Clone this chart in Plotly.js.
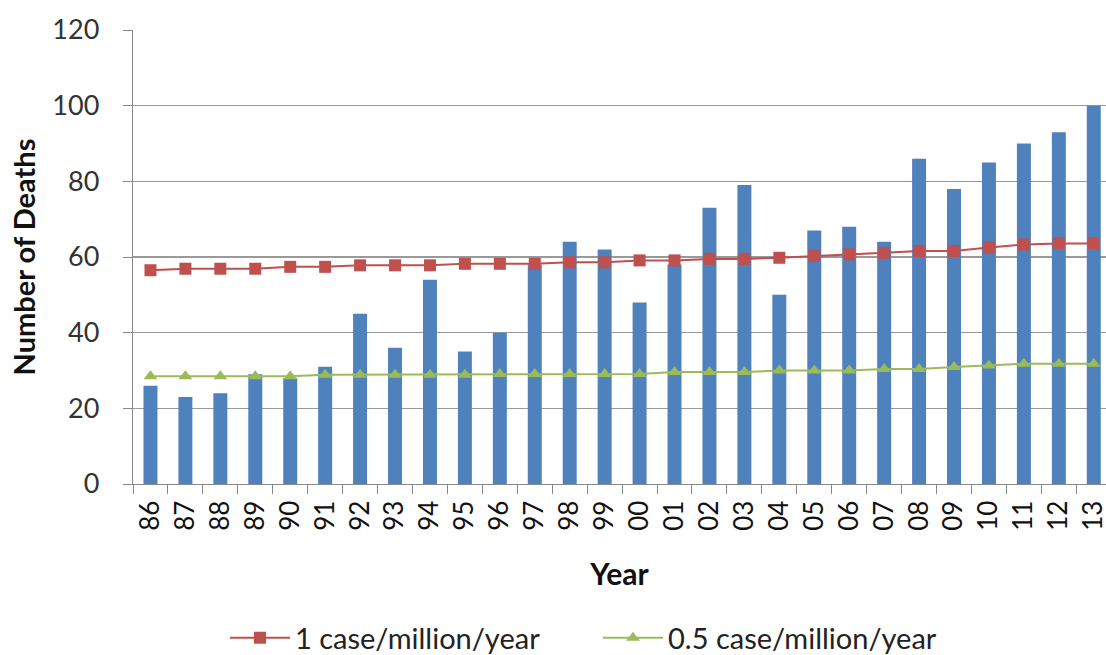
<!DOCTYPE html>
<html>
<head>
<meta charset="utf-8">
<script src="https://cdn.plot.ly/plotly-3.0.1.min.js"></script>
<style>html,body{margin:0;padding:0;background:#fff;}#chart{width:1106px;height:655px;}</style>
</head>
<body>
<div id="chart"></div>
<script>
const years = ["86","87","88","89","90","91","92","93","94","95","96","97","98","99","00","01","02","03","04","05","06","07","08","09","10","11","12","13"];
const deaths = [26,23,24,29,28,31,45,36,54,35,40,58,64,62,48,58,73,79,50,67,68,64,86,78,85,90,93,100];
const oneCase = [56.5,56.9,56.9,56.9,57.4,57.4,57.8,57.8,57.8,58.2,58.2,58.2,58.6,58.6,59.1,59.1,59.5,59.5,59.8,60.3,60.7,61.1,61.6,61.6,62.5,63.3,63.6,63.6];
const halfCase = [28.5,28.5,28.5,28.5,28.5,28.9,28.9,28.9,28.9,28.9,29.1,29.1,29.1,29.1,29.1,29.6,29.6,29.6,30.0,30.0,30.0,30.4,30.4,30.9,31.3,31.8,31.8,31.8];

const FONT = "Lato, 'Open Sans', sans-serif";

const traces = [
  {type:"bar", x: years, y: deaths, name:"Deaths", showlegend:false,
   marker:{color:"#4F81BD"}, width:0.4},
  {type:"scatter", mode:"lines+markers", x: years, y: oneCase, name:"1 case/million/year",
   line:{color:"#C0504D", width:2}, marker:{symbol:"square", size:12, color:"#C0504D"}},
  {type:"scatter", mode:"lines+markers", x: years, y: halfCase, name:"0.5 case/million/year",
   line:{color:"#9BBB59", width:2}, marker:{symbol:"triangle-up", size:12, color:"#9BBB59"}}
];

const layout = {
  width:1106, height:655,
  margin:{l:133, r:0, t:30, b:171},
  paper_bgcolor:"#fff", plot_bgcolor:"#fff",
  font:{family:FONT, color:"#222"},
  xaxis:{
    type:"category", categoryorder:"array", categoryarray: years,
    range:[-0.5, 27.35],
    tickangle:-90, tickfont:{size:26, color:"#111"},
    ticks:"outside", ticklen:9, tickcolor:"#888", tickson:"boundaries",
    ticklabelstandoff:5,
    showline:true, linecolor:"#888", linewidth:1.3,
    showgrid:false, zeroline:false,
    title:{text:"<b>Year</b>", font:{size:30, color:"#111"}, standoff:34}
  },
  yaxis:{
    range:[0,120], dtick:20, tick0:0,
    tickfont:{size:27, color:"#333"},
    ticks:"outside", ticklen:9, tickcolor:"#888",
    showline:true, linecolor:"#888", linewidth:1.3,
    showgrid:true, gridcolor:"#999", gridwidth:1.3, zeroline:false,
    ticklabelstandoff:18,
    title:{text:"<b>Number of Deaths</b>", font:{size:29, color:"#111"}, standoff:8}
  },
  showlegend:true,
  legend:{orientation:"h", xref:"container", x:225/1106, xanchor:"left", yref:"container", y:17/655, yanchor:"middle",
    font:{size:29, color:"#222"}, itemwidth:60, entrywidth:298, bgcolor:"rgba(0,0,0,0)"}
};

Plotly.newPlot("chart", traces, layout, {displayModeBar:false, staticPlot:true});
</script>
</body>
</html>
